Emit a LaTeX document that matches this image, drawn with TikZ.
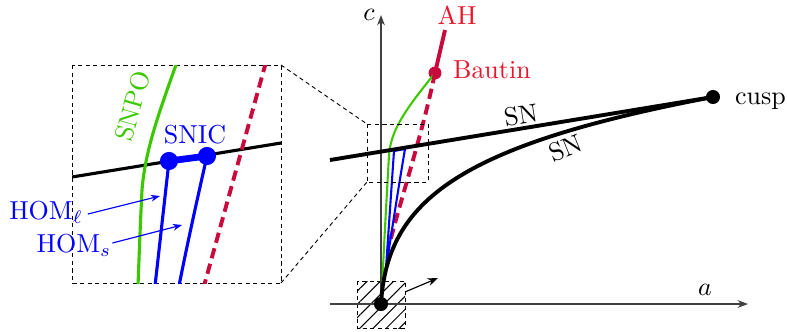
\documentclass[tikz,border=0pt]{standalone}
\usetikzlibrary{arrows.meta,patterns.meta}
\definecolor{ahred}{RGB}{200,10,60}
\definecolor{lblred}{RGB}{235,20,40}
\definecolor{snpo}{RGB}{60,200,0}
\begin{document}
\begin{tikzpicture}[x=0.385pt,y=-0.385pt,
  dot/.style={circle,fill,inner sep=0pt,minimum size=#1},
  dot/.default=5.4pt,
  axis/.style={black!75,line width=0.45pt,-{Stealth[length=4pt,width=3pt]}},
  boxline/.style={line width=0.35pt,dash pattern=on 1.6pt off 1.3pt},
  snline/.style={line width=1.5pt},
  ahdash/.style={ahred,line width=1.5pt,dash pattern=on 4pt off 2.2pt},
  lbl/.style={inner sep=1pt},
  pointer/.style={blue,line width=0.45pt,-{Stealth[length=3.5pt,width=2.6pt]}}]
\useasboundingbox (0,0) rectangle (787,331);

% ---------- main diagram ----------
\coordinate (O) at (381,304);
\coordinate (xs) at (330,304);
\coordinate (xe) at (748,304);
\coordinate (ye) at (381,15);
\fill[pattern={Lines[angle=45,distance=3.6pt,line width=0.4pt]}] (357,281) rectangle (405,328);
\draw[boxline] (357,281) rectangle (405,328);
\draw[axis] (xs) -- (xe);
\draw[axis] (O) -- (ye);
\node[lbl] (alab) at (705,290) {$a$};
\node[lbl] (clab) at (369,15) {$c$};

\node[dot=5.4pt] (cusp) at (713,97) {};
\node[dot=5pt,fill=ahred] (bautin) at (435,73) {};
\coordinate (snl) at (330,160);
\coordinate (ahtop) at (445,30);
\coordinate (hb) at (405,292);
\coordinate (ha) at (438,278);
\draw[-{Stealth[length=4pt,width=3pt]},line width=0.45pt] (hb) -- (ha);

% green SNPO
\draw[snpo,line width=0.8pt] (bautin.center) .. controls (405,110) and (391,130) .. (389,155)
   .. controls (386,210) and (383,260) .. (382,296);
% AH
\draw[ahdash] (bautin.center) .. controls (422,135) and (402,195) .. (390,242);
\draw[ahred,line width=1.5pt] (ahtop) -- (bautin.center);
% blue SNIC / HOM
\draw[blue,line width=0.8pt,line join=round] (386,268) -- (394,151) -- (405,149)
   .. controls (398,190) and (392,230) .. (386,268);
% SN
\draw[snline] (snl) -- (cusp.center);
\draw[snline] (O) .. controls (387,200) and (460,145) .. (cusp.center);
\node[dot=5.4pt] (odot) at (O) {};
\node[lbl,rotate=9.3] (sn1) at (521,115) {SN};
\node[lbl,rotate=22] (sn2) at (566,148) {SN};
\node[lbl,anchor=west] (cusplab) at (732,101) {cusp};
\node[lbl,text=lblred,anchor=west] (bautinlab) at (450,70) {Bautin};
\node[lbl,text=lblred] (ahlab) at (457,15) {AH};

% ---------- zoom box ----------
\draw[boxline] (367,124) rectangle (428,182);
\draw[boxline] (72,65) rectangle (281,283);
\draw[boxline] (281,65) -- (367,124);
\draw[boxline] (281,283) -- (367,182);

\begin{scope}
\clip (72,65) rectangle (281,283);
\draw[line width=1.2pt] (72,177) -- (281,143);
\draw[snpo,line width=1.2pt] (177,62) .. controls (160,110) and (145,150) .. (142,190)
   .. controls (140,230) and (139,260) .. (138,286);
\draw[blue,line width=1.2pt] (169,161) -- (155,286);
\draw[blue,line width=1.2pt] (207,156) .. controls (197,200) and (186,250) .. (179,286);
\draw[ahdash] (266,62) -- (204,286);
\end{scope}
\node[dot=7pt,fill=blue] (snic1) at (169,161) {};
\node[dot=7pt,fill=blue] (snic2) at (207,156) {};
\draw[blue,line width=2.6pt] (snic1.center) -- (snic2.center);

\node[lbl,text=snpo,rotate=74] (snpolab) at (133,106) {SNPO};
\node[lbl,text=blue] (sniclab) at (195,135) {SNIC};
\node[lbl,text=blue] (homl) at (46,212) {HOM$_\ell$};
\node[lbl,text=blue] (homs) at (74,245) {HOM$_s$};
\coordinate (homlt) at (160,196);
\coordinate (homst) at (182,225);
\draw[pointer] (homl.east) ++(2,2) -- (homlt);
\draw[pointer] (homs.east) ++(-2,-2) -- (homst);
\end{tikzpicture}
\end{document}
